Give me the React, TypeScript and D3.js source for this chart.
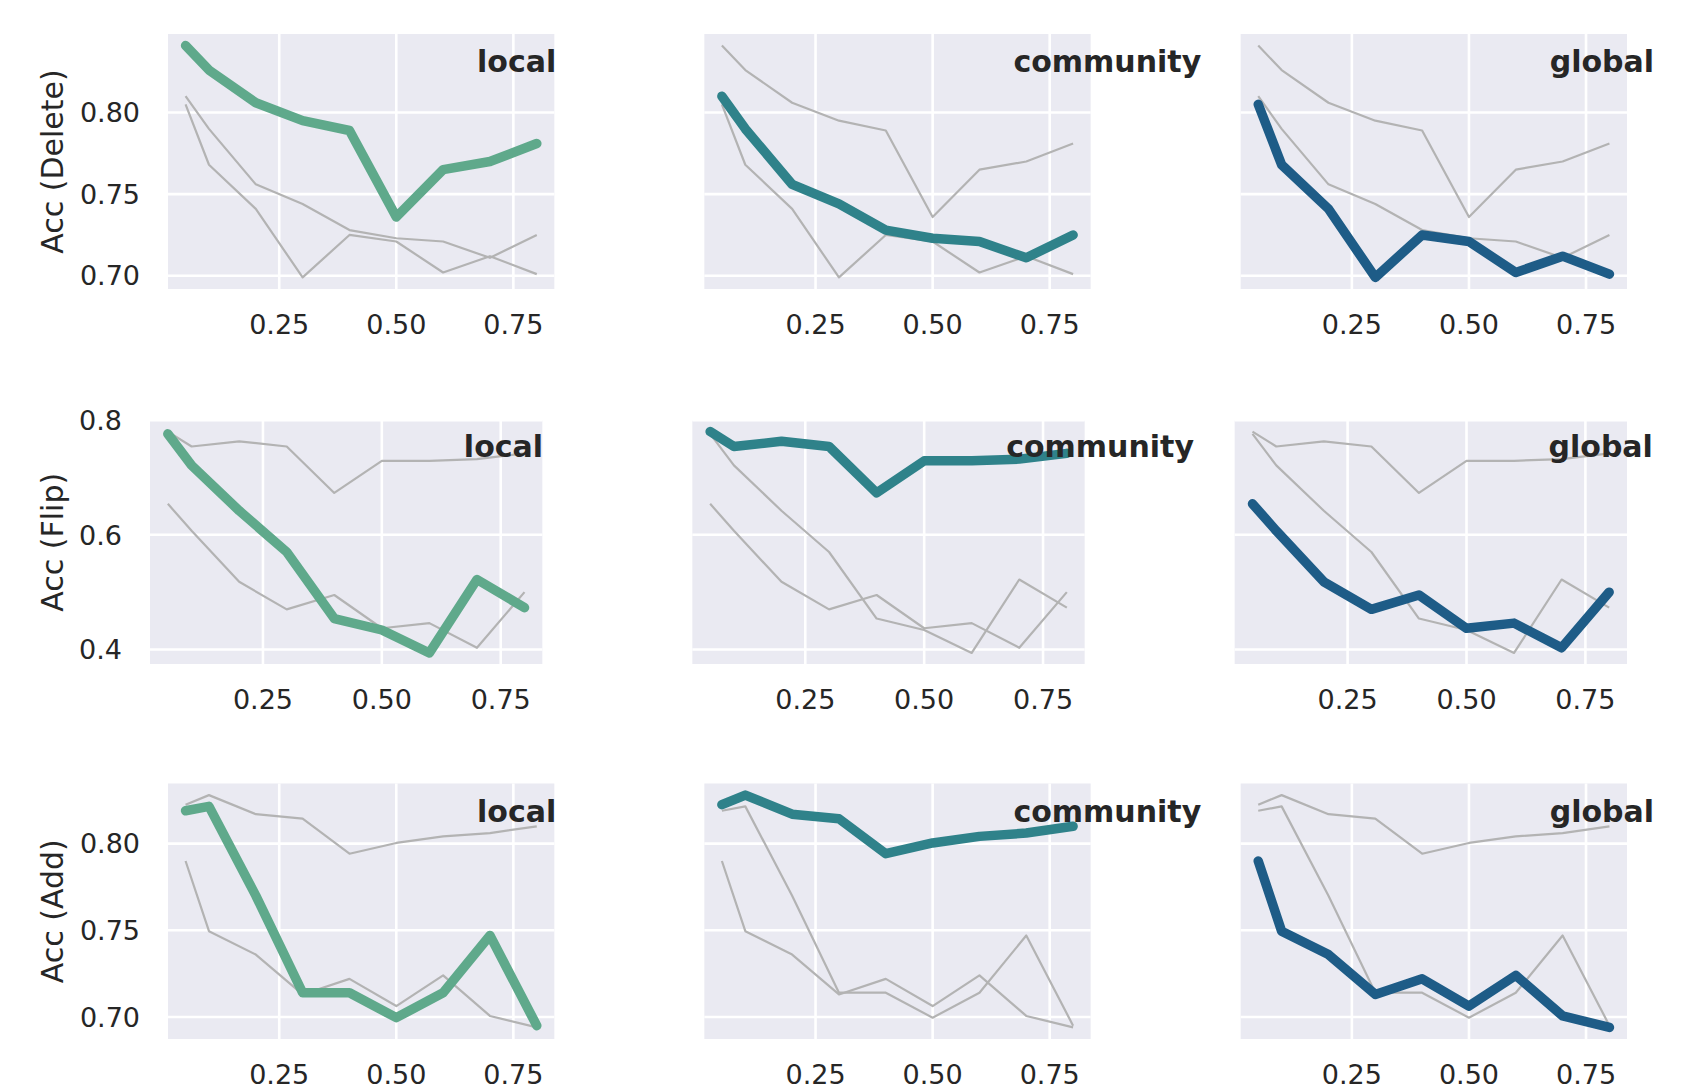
import * as d3 from "d3";

// noise ratio on the x axis
const ratios = [0.05, 0.1, 0.2, 0.3, 0.4, 0.5, 0.6, 0.7, 0.8];
const scopes = ["local", "community", "global"];
const rowLabels = ["Acc (Delete)", "Acc (Flip)", "Acc (Add)"];

const deleteLocal = [0.841, 0.826, 0.806, 0.795, 0.789, 0.736, 0.765, 0.77, 0.781];
const deleteCommunity = [0.81, 0.79, 0.756, 0.744, 0.728, 0.723, 0.721, 0.711, 0.725];
const deleteGlobal = [0.805, 0.768, 0.741, 0.699, 0.725, 0.721, 0.702, 0.712, 0.701];

const flipLocal = [0.776, 0.721, 0.642, 0.57, 0.454, 0.434, 0.394, 0.522, 0.473];
const flipCommunity = [0.78, 0.754, 0.763, 0.754, 0.673, 0.729, 0.729, 0.732, 0.742];
const flipGlobal = [0.654, 0.607, 0.518, 0.47, 0.495, 0.437, 0.446, 0.403, 0.5];

const addLocal = [0.819, 0.8215, 0.77, 0.714, 0.714, 0.6996, 0.714, 0.747, 0.695];
const addCommunity = [0.8225, 0.828, 0.817, 0.8144, 0.7942, 0.8004, 0.8042, 0.8061, 0.81];
const addGlobal = [0.79, 0.7495, 0.736, 0.713, 0.722, 0.7063, 0.724, 0.7006, 0.694];

const xTicks = [0.25, 0.5, 0.75];
const yTicksDelete = [0.7, 0.75, 0.8];
const yTicksFlip = [0.4, 0.6, 0.8];
const yTicksAdd = [0.7, 0.75, 0.8];

const rows = [
  { label: rowLabels[0], series: [deleteLocal, deleteCommunity, deleteGlobal], ticks: yTicksDelete, fmt: ".2f" },
  { label: rowLabels[1], series: [flipLocal, flipCommunity, flipGlobal], ticks: yTicksFlip, fmt: ".1f" },
  { label: rowLabels[2], series: [addLocal, addCommunity, addGlobal], ticks: yTicksAdd, fmt: ".2f" },
];

const colors = ["#5fa98b", "#2f828a", "#1e5c87"];
const W = 1688;
const H = 1090;
const font = "DejaVu Sans, sans-serif";
const ink = "#262626";

// panel boxes (px) per row
const rowBoxes = [
  { top: 34, bottom: 289, left: 168, right: 1627 },
  { top: 420.5, bottom: 664, left: 150, right: 1627 },
  { top: 783.5, bottom: 1039, left: 168, right: 1627 },
];
const gap = 150;

function padded(vals: number[]): [number, number] {
  const [lo, hi] = d3.extent(vals) as [number, number];
  const m = (hi - lo) * 0.05;
  return [lo - m, hi + m];
}

function Panel({ row, col, box, pw }: { row: number; col: number; box: any; pw: number }) {
  const r = rows[row];
  const x0 = box.left + col * (pw + gap);
  const x = d3.scaleLinear().domain(padded(ratios)).range([x0, x0 + pw]);
  const y = d3.scaleLinear().domain(padded(r.series.flat())).range([box.bottom, box.top]);
  const line = d3
    .line<number>()
    .x((_d, i) => x(ratios[i]))
    .y((d) => y(d));
  const h = box.bottom - box.top;
  const others = [0, 1, 2].filter((k) => k !== col);
  return (
    <g>
      <rect x={x0} y={box.top} width={pw} height={h} fill="#eaeaf2" />
      {xTicks.map((t) => (
        <line key={"gx" + t} x1={x(t)} x2={x(t)} y1={box.top} y2={box.bottom} stroke="#fff" strokeWidth={2.6} />
      ))}
      {r.ticks.map((t) => (
        <line key={"gy" + t} x1={x0} x2={x0 + pw} y1={y(t)} y2={y(t)} stroke="#fff" strokeWidth={2.6} />
      ))}
      {others.map((k) => (
        <path key={"o" + k} d={line(r.series[k])!} fill="none" stroke="#b3b3b3" strokeWidth={2.2} strokeLinejoin="round" />
      ))}
      <path
        d={line(r.series[col])!}
        fill="none"
        stroke={colors[col]}
        strokeWidth={9.5}
        strokeLinejoin="round"
        strokeLinecap="round"
      />
      {xTicks.map((t) => (
        <text key={"tx" + t} x={x(t)} y={box.bottom + 45} textAnchor="middle" fontSize={27} fill={ink}>
          {d3.format(".2f")(t)}
        </text>
      ))}
      {col === 0 &&
        r.ticks.map((t) => (
          <text key={"ty" + t} x={x0 - 28} y={y(t)} dy="0.36em" textAnchor="end" fontSize={27} fill={ink}>
            {d3.format(r.fmt)(t)}
          </text>
        ))}
      {col === 0 && (
        <text
          transform={`translate(63,${(box.top + box.bottom) / 2}) rotate(-90)`}
          textAnchor="middle"
          fontSize={30}
          fill={ink}
        >
          {r.label}
        </text>
      )}
      <text x={x0 + pw * 0.8} y={box.top + h * 0.15} fontSize={30} fontWeight="bold" fill={ink}>
        {scopes[col]}
      </text>
    </g>
  );
}

export default function App() {
  return (
    <svg
      width={W}
      height={H}
      viewBox={`0 0 ${W} ${H}`}
      style={{ position: "absolute", left: 0, top: 0, background: "#fff", fontFamily: font }}
    >
      {rowBoxes.map((box, ri) => {
        const pw = (box.right - box.left - 2 * gap) / 3;
        return [0, 1, 2].map((ci) => <Panel key={ri + "-" + ci} row={ri} col={ci} box={box} pw={pw} />);
      })}
    </svg>
  );
}
